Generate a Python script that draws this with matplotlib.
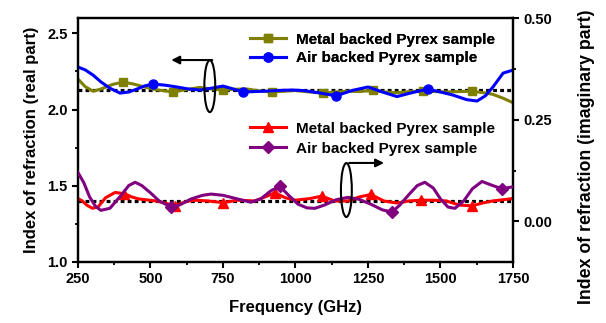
import numpy as np
import matplotlib.pyplot as plt
from matplotlib.patches import Ellipse

plt.rcParams['font.family'] = ['Liberation Sans', 'DejaVu Sans']
plt.rcParams['font.weight'] = 'bold'
plt.rcParams['axes.labelweight'] = 'bold'

# real part, metal backed (olive)
f_metal_re = [250, 275, 302, 330, 370, 405, 440, 475, 520, 578, 620, 670, 710, 750,
              790, 832, 875, 919, 960, 1000, 1050, 1094, 1140, 1180, 1220, 1266, 1310,
              1350, 1395, 1438, 1480, 1520, 1565, 1610, 1650, 1680, 1715, 1750]
n_metal_re = [2.20, 2.15, 2.12, 2.135, 2.165, 2.18, 2.168, 2.15, 2.13, 2.115, 2.13,
              2.145, 2.135, 2.128, 2.133, 2.135, 2.122, 2.115, 2.12, 2.125, 2.115,
              2.108, 2.115, 2.12, 2.118, 2.125, 2.115, 2.11, 2.118, 2.12, 2.118, 2.115,
              2.118, 2.12, 2.11, 2.10, 2.075, 2.045]
mkf_metal_re = [405, 578, 750, 919, 1094, 1266, 1438, 1610]

# real part, air backed (blue)
f_air_re = [250, 275, 302, 330, 360, 395, 425, 453, 480, 509, 550, 591, 630, 670, 710,
            750, 785, 819, 860, 902, 950, 991, 1030, 1080, 1140, 1195, 1250, 1300, 1350,
            1400, 1457, 1500, 1543, 1590, 1626, 1655, 1681, 1716, 1750]
n_air_re = [2.279, 2.26, 2.226, 2.18, 2.14, 2.108, 2.115, 2.134, 2.155, 2.167, 2.16,
            2.148, 2.135, 2.128, 2.14, 2.154, 2.135, 2.115, 2.118, 2.121, 2.126, 2.128,
            2.124, 2.11, 2.09, 2.125, 2.148, 2.115, 2.085, 2.11, 2.134, 2.115, 2.095,
            2.065, 2.056, 2.09, 2.148, 2.239, 2.259]
mkf_air_re = [509, 819, 1140, 1457]

# imaginary part, metal backed (red)
f_metal_im = [250, 265, 280, 300, 320, 345, 378, 410, 435, 460, 520, 550, 584, 620, 650,
              700, 750, 800, 860, 895, 929, 965, 1000, 1050, 1091, 1135, 1180, 1220,
              1260, 1305, 1350, 1390, 1433, 1475, 1520, 1565, 1609, 1645, 1680, 1715, 1750]
k_metal_im = [0.056, 0.05, 0.04, 0.032, 0.036, 0.058, 0.071, 0.068, 0.06, 0.055, 0.05,
              0.045, 0.038, 0.048, 0.052, 0.05, 0.046, 0.052, 0.05, 0.06, 0.07, 0.058,
              0.052, 0.056, 0.062, 0.05, 0.05, 0.06, 0.066, 0.05, 0.045, 0.05, 0.052,
              0.052, 0.05, 0.04, 0.038, 0.045, 0.05, 0.053, 0.056]
mkf_metal_im = [410, 584, 750, 929, 1091, 1260, 1433, 1609]

# imaginary part, air backed (purple)
f_air_im = [250, 270, 290, 310, 329, 360, 400, 425, 447, 470, 500, 530, 571, 600, 640,
            680, 709, 750, 800, 846, 880, 915, 946, 975, 1009, 1040, 1067, 1100, 1140,
            1181, 1220, 1260, 1300, 1333, 1360, 1390, 1420, 1446, 1475, 1500, 1526,
            1550, 1580, 1610, 1643, 1680, 1712, 1750]
k_air_im = [0.120, 0.095, 0.06, 0.037, 0.027, 0.032, 0.065, 0.088, 0.096, 0.088, 0.07,
            0.05, 0.035, 0.04, 0.055, 0.064, 0.067, 0.064, 0.055, 0.047, 0.055, 0.075,
            0.086, 0.065, 0.042, 0.033, 0.032, 0.04, 0.053, 0.059, 0.054, 0.042, 0.028,
            0.023, 0.04, 0.065, 0.088, 0.096, 0.082, 0.055, 0.035, 0.032, 0.05, 0.08,
            0.098, 0.088, 0.08, 0.085]
mkf_air_im = [571, 946, 1333, 1712]

n_avg = 2.127
k_avg = 0.05

label_metal = 'Metal backed Pyrex sample'
label_air = 'Air backed Pyrex sample'

def marks(freqs, picks):
    return [freqs.index(p) for p in picks]

fig = plt.figure(figsize=(6.06, 3.23), dpi=100)
ax = fig.add_subplot(111)
fig.subplots_adjust(left=0.1287, right=0.8465, top=0.944, bottom=0.189)
ax2 = ax.twinx()

lw = 2.2
dash = (0, (1.2, 1.0))
ax.plot([250, 1750], [n_avg, n_avg], color='black', lw=2.3, ls=dash, zorder=1)
l1, = ax.plot(f_metal_re, n_metal_re, color='#808000', lw=lw, marker='s', ms=6,
              markevery=marks(f_metal_re, mkf_metal_re), label=label_metal, zorder=2)
l2, = ax.plot(f_air_re, n_air_re, color='#0000ff', lw=lw, marker='o', ms=6.5,
              markevery=marks(f_air_re, mkf_air_re), label=label_air, zorder=3)

ax2.plot([250, 1750], [k_avg, k_avg], color='black', lw=2.3, ls=dash, zorder=1)
l3, = ax2.plot(f_metal_im, k_metal_im, color='#ff0000', lw=lw, marker='^', ms=7,
               markevery=marks(f_metal_im, mkf_metal_im), label=label_metal, zorder=2)
l4, = ax2.plot(f_air_im, k_air_im, color='#800080', lw=lw, marker='D', ms=6,
               markevery=marks(f_air_im, mkf_air_im), label=label_air, zorder=3)

ax.set_xlim(250, 1750)
ax.set_ylim(1.0, 2.6)
ax2.set_ylim(-0.1, 0.5)
ax.set_xticks([250, 500, 750, 1000, 1250, 1500, 1750])
ax.set_xticks([375, 625, 875, 1125, 1375, 1625], minor=True)
ax.set_yticks([1.0, 1.5, 2.0, 2.5])
ax.set_yticks([1.25, 1.75, 2.25], minor=True)
ax2.set_yticks([0.0, 0.25, 0.5])
ax2.set_yticks([0.125, 0.375], minor=True)
ax2.set_yticklabels(['0.00', '0.25', '0.50'])

for a in (ax, ax2):
    for s in a.spines.values():
        s.set_linewidth(1.6)
    a.tick_params(which='major', length=4, width=1.5, labelsize=10.5, direction='out')
    a.tick_params(which='minor', length=2.5, width=1.3, direction='out')
ax.tick_params(axis='y', which='both', right=False)
ax2.tick_params(axis='y', which='both', left=False)

ax.set_xlabel('Frequency (GHz)', fontsize=12, labelpad=10)
ax.set_ylabel('Index of refraction (real part)', fontsize=12, labelpad=6)
ax2.set_ylabel('Index of refraction (imaginary part)', fontsize=12.8)
ax2.yaxis.set_label_coords(1.15, 0.43)

leg1 = ax.legend(handles=[l1, l2], loc='upper left', bbox_to_anchor=(0.395, 0.94),
                 frameon=False, fontsize=11, handlelength=2.4, handletextpad=0.6,
                 labelspacing=0.3, borderpad=0, borderaxespad=0)
ax.add_artist(leg1)
leg2 = ax2.legend(handles=[l3, l4], loc='upper left', bbox_to_anchor=(0.395, 0.575),
                  frameon=False, fontsize=11, handlelength=2.4, handletextpad=0.6,
                  labelspacing=0.4, borderpad=0, borderaxespad=0)

# ellipses with arrows pointing to their axes
ax2.add_patch(Ellipse((0.303, 0.721), 0.025, 0.213, transform=ax.transAxes,
                      fill=False, lw=1.5, color='black', zorder=5))
ax2.annotate('', xy=(0.208, 0.828), xytext=(0.315, 0.828), xycoords='axes fraction',
             arrowprops=dict(arrowstyle='-|>', color='black', lw=1.5, mutation_scale=12))
ax2.add_patch(Ellipse((0.617, 0.295), 0.025, 0.221, transform=ax.transAxes,
                      fill=False, lw=1.5, color='black', zorder=5))
ax2.annotate('', xy=(0.71, 0.406), xytext=(0.617, 0.406), xycoords='axes fraction',
             arrowprops=dict(arrowstyle='-|>', color='black', lw=1.5, mutation_scale=12))

plt.savefig('out.png', dpi=100)
